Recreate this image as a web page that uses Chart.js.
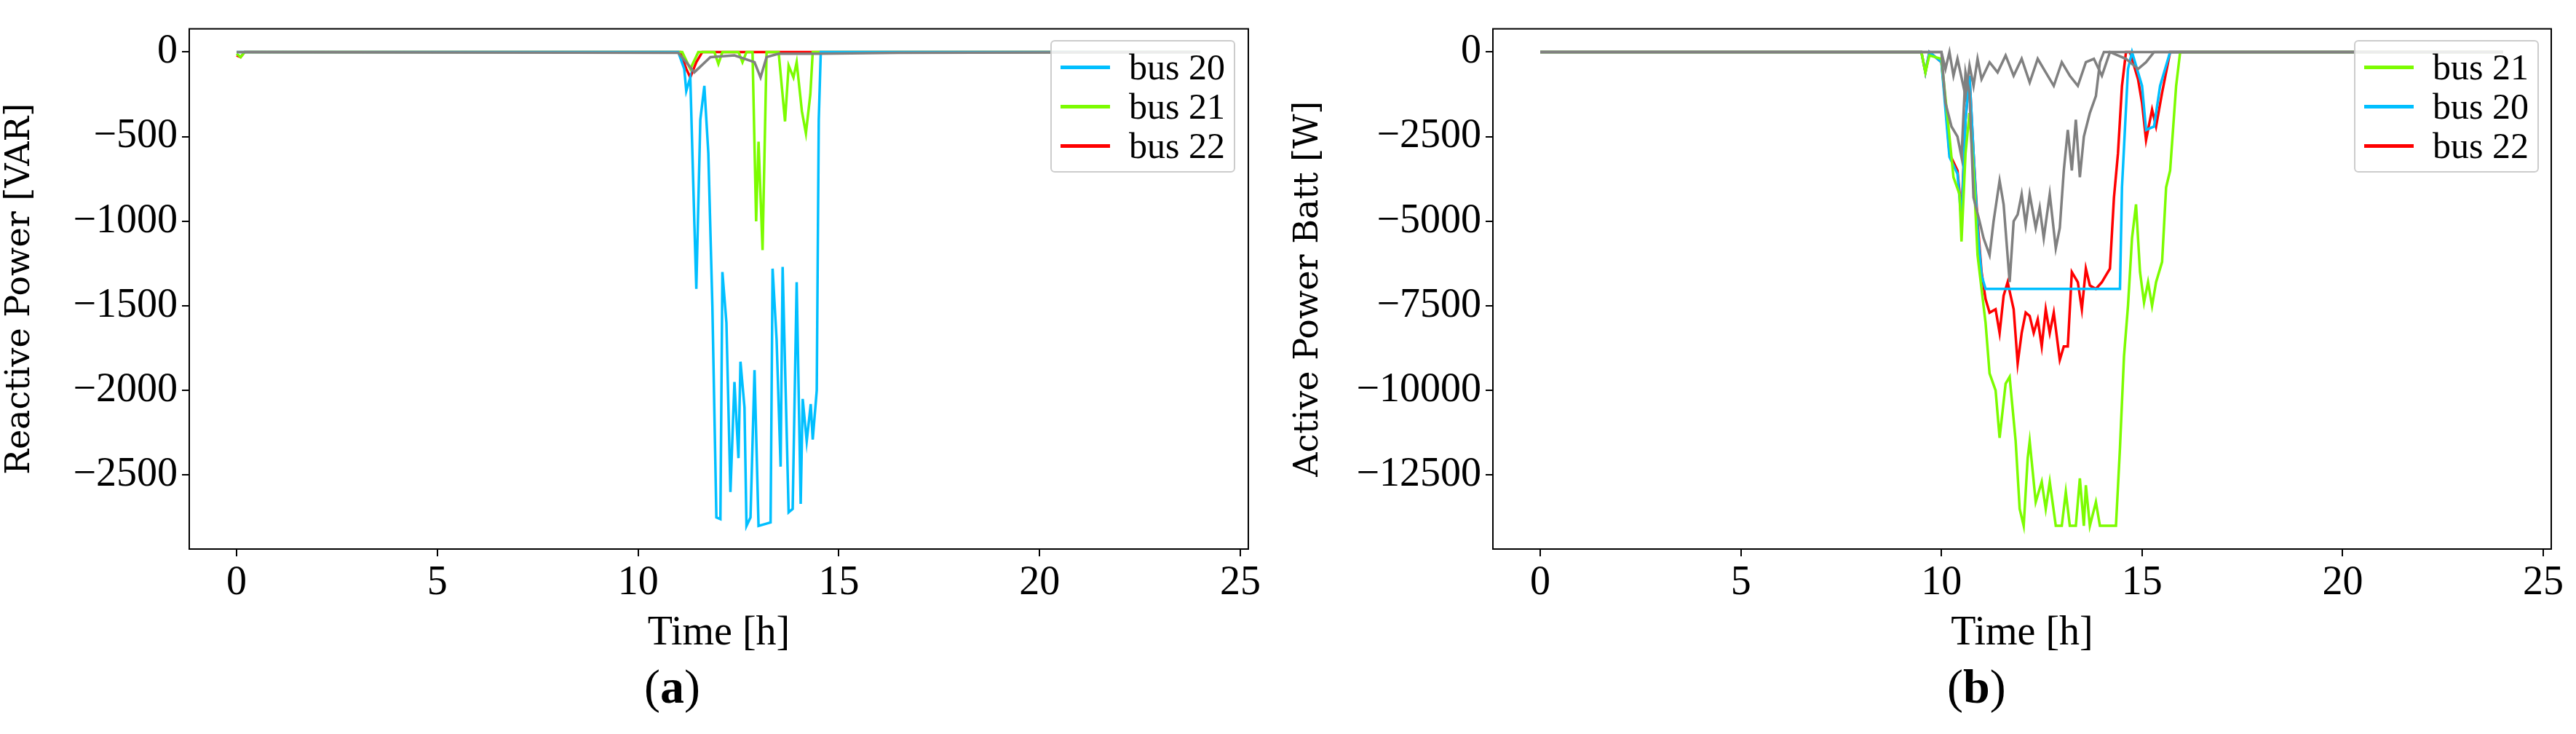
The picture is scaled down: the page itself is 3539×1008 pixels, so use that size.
<!DOCTYPE html>
<html>
<head>
<meta charset="utf-8">
<script src="https://cdn.jsdelivr.net/npm/chart.js@4"></script>
<style>
  body { margin: 0; background: #fff; width: 3539px; height: 1008px; position: relative; overflow: hidden; font-family: "Liberation Serif", serif; }
  .wrap { position: absolute; top: 0; width: 1770px; height: 1008px; }
  .legend { position: absolute; background: rgba(255,255,255,0.85); border: 2px solid #ccc; border-radius: 6px; padding: 8px 12px; font-size: 50px; white-space: nowrap; }
  .legend div { display: flex; align-items: center; height: 54px; }
  .legend span.sw { display: inline-block; width: 74px; height: 5px; margin-right: 26px; }
  .cap { position: absolute; top: 905px; font-size: 66px; }
</style>
</head>
<body>
<div class="wrap" style="left:0"><canvas id="chartA"></canvas></div>
<div class="wrap" style="left:1770px"><canvas id="chartB"></canvas></div>
<div class="legend" style="left:1443px;top:55px;width:226px">
  <div><span class="sw" style="background:#00bfff"></span>bus 20</div>
  <div><span class="sw" style="background:#7cfc00"></span>bus 21</div>
  <div><span class="sw" style="background:#ff0000"></span>bus 22</div>
</div>
<div class="legend" style="left:3234px;top:55px;width:226px">
  <div><span class="sw" style="background:#7cfc00"></span>bus 21</div>
  <div><span class="sw" style="background:#00bfff"></span>bus 20</div>
  <div><span class="sw" style="background:#ff0000"></span>bus 22</div>
</div>
<div class="cap" style="left:885px"><span>(</span><b>a</b><span>)</span></div>
<div class="cap" style="left:2675px"><span>(</span><b>b</b><span>)</span></div>
<script>
// ---- chart (a): reactive power ----
let qBus20T = [0, 11.0, 11.15, 11.2, 11.3, 11.4, 11.45, 11.55, 11.65, 11.75, 11.85, 11.95, 12.05, 12.1, 12.2, 12.3, 12.4, 12.5, 12.55, 12.65, 12.7, 12.8, 12.9, 13.0, 13.15, 13.3, 13.35, 13.45, 13.55, 13.6, 13.75, 13.85, 13.95, 14.05, 14.1, 14.2, 14.3, 14.35, 14.45, 14.5, 14.55, 24];
let qBus20V = [0, 0, -100, -230, -150, -1000, -1400, -400, -200, -600, -1500, -2750, -2760, -1300, -1600, -2600, -1950, -2400, -1830, -2100, -2800, -2750, -1880, -2800, -2790, -2780, -1280, -1700, -2450, -1270, -2720, -2700, -1360, -2670, -2050, -2300, -2080, -2290, -2000, -400, 0, 0];
let qBus21T = [0, 0.1, 0.2, 11.1, 11.3, 11.5, 11.9, 12.0, 12.1, 12.5, 12.6, 12.7, 12.85, 12.94, 13.0, 13.1, 13.2, 13.5, 13.66, 13.75, 13.87, 13.95, 14.08, 14.18, 14.29, 14.35, 24];
let qBus21V = [-10, -30, 0, 0, -100, 0, 0, -70, 0, 0, -60, 0, 0, -1000, -530, -1170, 0, 0, -410, -80, -150, -60, -350, -480, -250, 0, 0];
let qBus22T = [0, 0.1, 0.2, 11.05, 11.2, 11.3, 11.45, 11.6, 24];
let qBus22V = [-20, -30, 0, 0, -100, -150, -60, 0, 0];
let qGreyT = [0, 11.0, 11.2, 11.4, 11.8, 12.4, 12.9, 13.05, 13.2, 13.5, 14.5, 16.5, 24];
let qGreyV = [0, -5, -60, -120, -30, -20, -60, -150, -30, -10, -10, -5, 0];
let qTicks = [0, -500, -1000, -1500, -2000, -2500];

// ---- chart (b): active power battery ----
let pBus21T = [0, 9.5, 9.6, 9.7, 10.0, 10.2, 10.3, 10.45, 10.5, 10.6, 10.7, 10.8, 10.9, 11.0, 11.1, 11.2, 11.35, 11.45, 11.6, 11.7, 11.85, 11.95, 12.05, 12.15, 12.2, 12.35, 12.5, 12.6, 12.7, 12.85, 13.0, 13.1, 13.2, 13.35, 13.45, 13.55, 13.6, 13.7, 13.85, 13.95, 14.2, 14.35, 14.45, 14.55, 14.65, 14.75, 14.85, 14.95, 15.05, 15.15, 15.25, 15.35, 15.5, 15.6, 15.7, 15.85, 15.95, 24];
let pBus21V = [0, 0, -600, -100, -200, -2500, -3700, -4200, -5600, -3000, -1800, -3500, -6000, -7000, -8000, -9500, -10000, -11400, -9800, -9600, -11500, -13500, -14000, -12000, -11500, -13300, -12700, -13500, -12700, -14000, -14000, -13000, -14000, -14000, -12600, -14000, -12800, -14000, -13300, -14000, -14000, -14000, -11700, -9000, -7500, -5500, -4500, -6500, -7400, -6800, -7500, -6800, -6200, -4000, -3500, -1000, 0, 0];
let pBus20T = [0, 9.5, 9.6, 9.7, 10.0, 10.2, 10.4, 10.5, 10.6, 10.7, 10.8, 10.9, 11.0, 11.1, 14.45, 14.5, 14.65, 14.75, 15.0, 15.1, 15.3, 15.45, 15.7, 24];
let pBus20V = [0, 0, -600, 0, -300, -3100, -3600, -5000, -2000, -700, -3000, -5200, -6600, -7000, -7000, -4000, -500, 0, -1000, -2300, -2200, -1000, 0, 0];
let pBus22T = [0, 9.5, 9.6, 9.7, 10.0, 10.1, 10.2, 10.4, 10.5, 10.6, 10.7, 10.8, 10.9, 11.0, 11.1, 11.2, 11.35, 11.45, 11.55, 11.65, 11.8, 11.9, 12.0, 12.1, 12.2, 12.3, 12.4, 12.5, 12.6, 12.7, 12.8, 12.95, 13.05, 13.15, 13.25, 13.4, 13.5, 13.6, 13.7, 13.85, 14.0, 14.1, 14.2, 14.3, 14.4, 14.5, 14.6, 14.7, 14.9, 15.0, 15.1, 15.25, 15.35, 15.5, 15.7, 24];
let pBus22V = [0, 0, -600, 0, -300, -1500, -3000, -3500, -4800, -2000, -700, -3000, -5000, -6500, -7300, -7700, -7600, -8300, -7200, -6800, -7600, -9200, -8300, -7700, -7800, -8300, -7900, -8700, -7600, -8300, -7700, -9100, -8700, -8700, -6500, -6800, -7600, -6400, -6900, -7000, -6800, -6600, -6400, -4300, -3000, -1000, 0, 0, -800, -1500, -2600, -1700, -2200, -1200, 0, 0];
let pGrey1T = [0, 10.0, 10.1, 10.25, 10.4, 10.5, 10.6, 10.7, 10.8, 10.95, 11.05, 11.2, 11.3, 11.45, 11.55, 11.7, 11.8, 11.9, 12.0, 12.1, 12.2, 12.35, 12.45, 12.55, 12.7, 12.85, 12.95, 13.05, 13.15, 13.25, 13.35, 13.45, 13.55, 13.7, 13.85, 13.95, 14.05, 24];
let pGrey1V = [0, 0, -1500, -2200, -2500, -3100, -600, -1200, -4300, -5000, -5500, -6000, -5000, -3800, -4500, -6800, -5000, -4800, -4200, -5100, -4200, -5200, -4600, -5500, -4200, -5800, -5200, -3500, -2300, -3500, -2000, -3700, -2500, -1800, -1300, -300, 0, 0];
let pGrey2T = [0, 10.0, 10.1, 10.2, 10.3, 10.4, 10.6, 10.7, 10.8, 10.9, 11.0, 11.2, 11.4, 11.6, 11.8, 12.0, 12.2, 12.4, 12.6, 12.8, 13.0, 13.2, 13.4, 13.6, 13.8, 14.0, 14.2, 14.6, 14.9, 15.1, 15.3, 24];
let pGrey2V = [0, 0, -500, 0, -700, -200, -1300, -400, -1000, -200, -800, -300, -600, -100, -700, -200, -900, -200, -600, -1000, -300, -700, -1000, -300, -200, -700, 0, -200, -500, -300, 0, 0];
let pTicks = [0, -2500, -5000, -7500, -10000, -12500];

let timeTicks = [0, 5, 10, 15, 20, 25];

function pts(ts, vs) {
  return ts.map((t, i) => ({ x: t, y: vs[i] }));
}
function line(ts, vs, color) {
  return { data: pts(ts, vs), borderColor: color, borderWidth: 3.5, pointRadius: 0, tension: 0, fill: false };
}

const font = { family: "Liberation Serif", size: 56 };
let boxPlugin = {
  id: 'box',
  afterDraw(chart) {
    let a = chart.chartArea, c = chart.ctx;
    c.save(); c.strokeStyle = '#000'; c.lineWidth = 2;
    c.strokeRect(a.left, a.top, a.right - a.left, a.bottom - a.top);
    c.restore();
  }
};

function makeChart(id, datasets, ymin, ymax, yticks, ytitle, yw, padRight) {
  return new Chart(document.getElementById(id), {
    type: 'line',
    data: { datasets: datasets },
    plugins: [boxPlugin],
    options: {
      responsive: false, animation: false,
      layout: { padding: { top: 37, right: padRight, bottom: 104, left: 0 } },
      plugins: { legend: { display: false }, tooltip: { enabled: false } },
      scales: {
        x: {
          type: 'linear', min: -1.18, max: 25.2,
          afterBuildTicks(s) { s.ticks = timeTicks.map(v => ({ value: v })); },
          ticks: { color: '#000', font: font, padding: 4 },
          grid: { drawOnChartArea: false, color: '#000', tickLength: 10, lineWidth: 2 },
          border: { color: '#000', width: 2 },
          title: { display: true, text: 'Time [h]', color: '#000', font: font, padding: 0 },
          afterFit(s) { s.height = 150; }
        },
        y: {
          min: ymin, max: ymax,
          afterBuildTicks(s) { s.ticks = yticks.map(v => ({ value: v })); },
          ticks: { color: '#000', font: font, padding: 6,
                   callback: v => String(v).replace('-', '\u2212') },
          grid: { drawOnChartArea: false, color: '#000', tickLength: 10, lineWidth: 2 },
          border: { color: '#000', width: 2 },
          title: { display: true, text: ytitle, color: '#000', font: { family: "DejaVu Serif", size: 46 }, padding: 0 },
          afterFit(s) { s.width = yw; }
        }
      }
    }
  });
}

let cA = document.getElementById('chartA'); cA.width = 1770; cA.height = 1008;
let cB = document.getElementById('chartB'); cB.width = 1769; cB.height = 1008;

makeChart('chartA', [
  line(qGreyT, qGreyV, '#808080'),
  line(qBus20T, qBus20V, '#00bfff'),
  line(qBus21T, qBus21V, '#7cfc00'),
  line(qBus22T, qBus22V, '#ff0000')
], -2937, 137, qTicks, 'Reactive Power [VAR]', 260, 55);

makeChart('chartB', [
  line(pGrey1T, pGrey1V, '#808080'),
  line(pGrey2T, pGrey2V, '#808080'),
  line(pBus21T, pBus21V, '#7cfc00'),
  line(pBus20T, pBus20V, '#00bfff'),
  line(pBus22T, pBus22V, '#ff0000')
], -14687, 686, pTicks, 'Active Power Batt [W]', 281, 34);
</script>
</body>
</html>
